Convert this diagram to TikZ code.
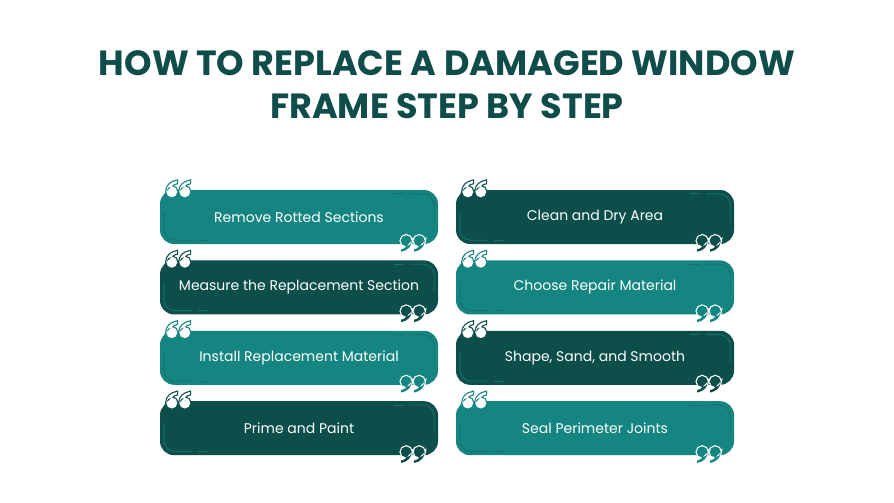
\documentclass[tikz,border=0pt]{standalone}
\usepackage{fontspec}
\setmainfont{Poppins}
\usepackage{tikz}
\usetikzlibrary{positioning}

\definecolor{stepteal}{RGB}{20,133,128}
\definecolor{stepdark}{RGB}{11,78,74}
\definecolor{titlegreen}{RGB}{14,77,73}
\definecolor{trimgreen}{RGB}{24,112,107}

\tikzset{
  stepbox/.style = {rounded corners=14pt, minimum width=278pt, minimum height=54pt,
                    inner sep=0pt, text=white, font=\fontsize{14}{16}\selectfont},
  tealbox/.style = {stepbox, fill=stepteal},
  darkbox/.style = {stepbox, fill=stepdark},
  titletext/.style = {anchor=base, text=titlegreen, font=\fontsize{35}{42}\selectfont\bfseries},
  innerline/.style = {trimgreen, line width=0.9pt},
  qmark/.pic = {
    \path[pic actions] (0,0) circle (5.5pt)
      (-5.5,0) .. controls (-5.5,-6) and (-1,-10) .. (5,-11) -- (5,-8.5)
      .. controls (1.5,-8) and (0,-6) .. (0,-5.5) -- cycle;
  }
}

% quote marks and inner trim of one step box
\newcommand\stepdeco[2]{%
  \foreach \dx in {12,25}
    \pic[draw=#2, line width=2.4pt] at ([shift={(\dx,2)}]#1.north west) {qmark};
  \foreach \dx in {12,25}
    \pic[fill=white] at ([shift={(\dx,2)}]#1.north west) {qmark};
  \foreach \dx in {-32,-19}
    \pic[rotate=180, draw=white, line width=2.4pt] at ([shift={(\dx,-3.5)}]#1.south east) {qmark};
  \foreach \dx in {-32,-19}
    \pic[rotate=180, fill=#2] at ([shift={(\dx,-3.5)}]#1.south east) {qmark};
  \draw[innerline, rounded corners=11pt] ([shift={(4,22)}]#1.north west) |- ([shift={(32,-4)}]#1.south west);
  \draw[innerline] ([shift={(38,-4)}]#1.south west) -- ([shift={(48,-4)}]#1.south west);
  \draw[innerline, rounded corners=11pt] ([shift={(-28,4)}]#1.north east) -| ([shift={(-4,-22)}]#1.south east);
  \draw[innerline] ([shift={(-44,4)}]#1.north east) -- ([shift={(-34,4)}]#1.north east);
}

\begin{document}
\begin{tikzpicture}[x=1pt, y=-1pt]
  \fill[white] (0,0) rectangle (894,503);
  \useasboundingbox (0,0) rectangle (894,503);

  \node[titletext] (title1) at (447,75) {HOW TO REPLACE A DAMAGED WINDOW};
  \node[titletext] (title2) at (447,118) {FRAME STEP BY STEP};

  % left column
  \node[tealbox] (remove) at (299,217) {Remove Rotted Sections};
  \node[darkbox, below=16pt of remove] (measure) {Measure the Replacement Section};
  \node[tealbox, below=16pt of measure] (install) {Install Replacement Material};
  \node[darkbox, below=16pt of install] (prime) {Prime and Paint};

  % right column
  \node[darkbox] (clean) at (595,217) {Clean and Dry Area};
  \node[tealbox, below=16pt of clean] (choose) {Choose Repair Material};
  \node[darkbox, below=16pt of choose] (shape) {Shape, Sand, and Smooth};
  \node[tealbox, below=16pt of shape] (seal) {Seal Perimeter Joints};

  \stepdeco{remove}{stepteal}
  \stepdeco{measure}{stepdark}
  \stepdeco{install}{stepteal}
  \stepdeco{prime}{stepdark}
  \stepdeco{clean}{stepdark}
  \stepdeco{choose}{stepteal}
  \stepdeco{shape}{stepdark}
  \stepdeco{seal}{stepteal}
\end{tikzpicture}
\end{document}
